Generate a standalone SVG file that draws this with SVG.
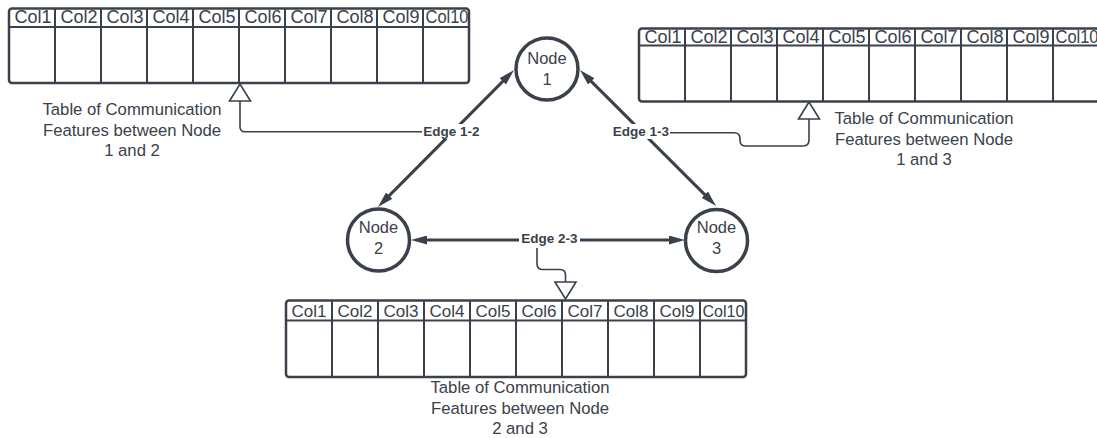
<svg xmlns="http://www.w3.org/2000/svg" width="1097" height="438" viewBox="0 0 1097 438">
<style>
.tbl{fill:#fff;stroke:#3a414a;stroke-width:2.5}
.div{stroke:#3a414a;stroke-width:2;fill:none}
.hd{font-family:"Liberation Sans",Arial,sans-serif;font-size:18px;fill:#3a414a;text-anchor:middle}
.hd3{font-size:17px}
.cap{font-family:"Liberation Sans",Arial,sans-serif;font-size:16.7px;fill:#3a414a;text-anchor:middle}
.node{fill:#fff;stroke:#3a414a;stroke-width:3.5}
.nt{font-family:"Liberation Sans",Arial,sans-serif;font-size:16.5px;fill:#3a414a;text-anchor:middle}
.edge{stroke:#3a414a;stroke-width:3;fill:none}
.conn{stroke:#3a414a;stroke-width:1.6;fill:none}
.lbl{font-family:"Liberation Sans",Arial,sans-serif;font-size:13.5px;font-weight:bold;fill:#3a414a;text-anchor:middle}
.lbg{fill:#fff}
.tri{fill:#fff;stroke:#3a414a;stroke-width:1.6}
</style>
<defs>
<marker id="ah" viewBox="0 0 16 9" markerUnits="userSpaceOnUse" markerWidth="16" markerHeight="9" refX="6" refY="4.5" orient="auto-start-reverse">
<path d="M0,0 L16,4.5 L0,9 z" fill="#3a414a"/>
</marker>
</defs>
<rect width="1097" height="438" fill="#fff"/>

<g id="table-1-2">
<rect class="tbl" x="9" y="8.5" width="460" height="74.5" rx="3"/>
<path class="div" d="M9,27H469 M55,8.5V83 M101,8.5V83 M147,8.5V83 M193,8.5V83 M239,8.5V83 M285,8.5V83 M331,8.5V83 M377,8.5V83 M423,8.5V83"/>
<text class="hd" y="23"><tspan x="33">Col1</tspan><tspan x="79">Col2</tspan><tspan x="125">Col3</tspan><tspan x="171">Col4</tspan><tspan x="217">Col5</tspan><tspan x="263">Col6</tspan><tspan x="309">Col7</tspan><tspan x="355">Col8</tspan><tspan x="401">Col9</tspan></text>
<text class="hd" x="447" y="23" textLength="43" lengthAdjust="spacingAndGlyphs">Col10</text>
<text class="cap"><tspan x="132" y="115">Table of Communication</tspan><tspan x="132" y="135.5">Features between Node</tspan><tspan x="132" y="156">1 and 2</tspan></text>
</g>

<g id="table-1-3">
<rect class="tbl" x="639" y="28.5" width="460" height="73" rx="3"/>
<path class="div" d="M639,45.5H1099 M685,28.5V101.5 M731,28.5V101.5 M777,28.5V101.5 M823,28.5V101.5 M869,28.5V101.5 M915,28.5V101.5 M961,28.5V101.5 M1007,28.5V101.5 M1053,28.5V101.5"/>
<text class="hd" y="42.5"><tspan x="663">Col1</tspan><tspan x="709">Col2</tspan><tspan x="755">Col3</tspan><tspan x="801">Col4</tspan><tspan x="847">Col5</tspan><tspan x="893">Col6</tspan><tspan x="939">Col7</tspan><tspan x="985">Col8</tspan><tspan x="1031">Col9</tspan></text>
<text class="hd" x="1077" y="42.5" textLength="43" lengthAdjust="spacingAndGlyphs">Col10</text>
<text class="cap"><tspan x="924" y="124">Table of Communication</tspan><tspan x="924" y="144.5">Features between Node</tspan><tspan x="924" y="165">1 and 3</tspan></text>
</g>

<g id="table-2-3">
<rect class="tbl" x="286" y="300.5" width="460" height="76.5" rx="3"/>
<path class="div" d="M286,320.5H746 M332,300.5V377 M378,300.5V377 M424,300.5V377 M470,300.5V377 M516,300.5V377 M562,300.5V377 M608,300.5V377 M654,300.5V377 M700,300.5V377"/>
<text class="hd hd3" y="316.5"><tspan x="309">Col1</tspan><tspan x="355">Col2</tspan><tspan x="401">Col3</tspan><tspan x="447">Col4</tspan><tspan x="493">Col5</tspan><tspan x="539">Col6</tspan><tspan x="585">Col7</tspan><tspan x="631">Col8</tspan><tspan x="677">Col9</tspan></text>
<text class="hd hd3" x="723.5" y="316.5" textLength="42" lengthAdjust="spacingAndGlyphs">Col10</text>
<text class="cap"><tspan x="520" y="393">Table of Communication</tspan><tspan x="520" y="413.5">Features between Node</tspan><tspan x="520" y="434">2 and 3</tspan></text>
</g>

<g id="connectors">
<path class="edge" d="M385,199.9 L507,77.1" marker-start="url(#ah)" marker-end="url(#ah)"/>
<path class="edge" d="M587,77.1 L709,198.9" marker-start="url(#ah)" marker-end="url(#ah)"/>
<path class="edge" d="M421,240 L675,240" marker-start="url(#ah)" marker-end="url(#ah)"/>
<path class="conn" d="M423,131.7 H245 Q240,131.7 240,126.7 V101"/>
<polygon class="tri" points="240,84 229.5,101 250.5,101"/>
<path class="conn" d="M669,132.7 H734 Q740,132.7 740,138.7 V140.5 Q740,146 746,146 H803 Q809,146 809,140 V119"/>
<polygon class="tri" points="809,102 798.5,119 819.5,119"/>
<path class="conn" d="M537,248 V264 Q537,269.5 543,269.5 H560 Q565.5,269.5 565.5,275 V282"/>
<polygon class="tri" points="555,282 576,282 565.5,299"/>
<rect class="lbg" x="422" y="124" width="59" height="15"/>
<text class="lbl" x="451.5" y="135.5">Edge 1-2</text>
<rect class="lbg" x="612" y="124" width="58" height="15"/>
<text class="lbl" x="641" y="135.5">Edge 1-3</text>
<rect class="lbg" x="519" y="232" width="61" height="15"/>
<text class="lbl" x="549.5" y="243">Edge 2-3</text>
</g>

<g id="node-1">
<circle class="node" cx="547" cy="69" r="31"/>
<text class="nt" x="547" y="64">Node</text>
<text class="nt" x="547" y="85">1</text>
</g>
<g id="node-2">
<circle class="node" cx="378.5" cy="240" r="31"/>
<text class="nt" x="378.5" y="233">Node</text>
<text class="nt" x="378.5" y="254">2</text>
</g>
<g id="node-3">
<circle class="node" cx="716.5" cy="240.5" r="31"/>
<text class="nt" x="716.5" y="233">Node</text>
<text class="nt" x="716.5" y="254">3</text>
</g>
</svg>
